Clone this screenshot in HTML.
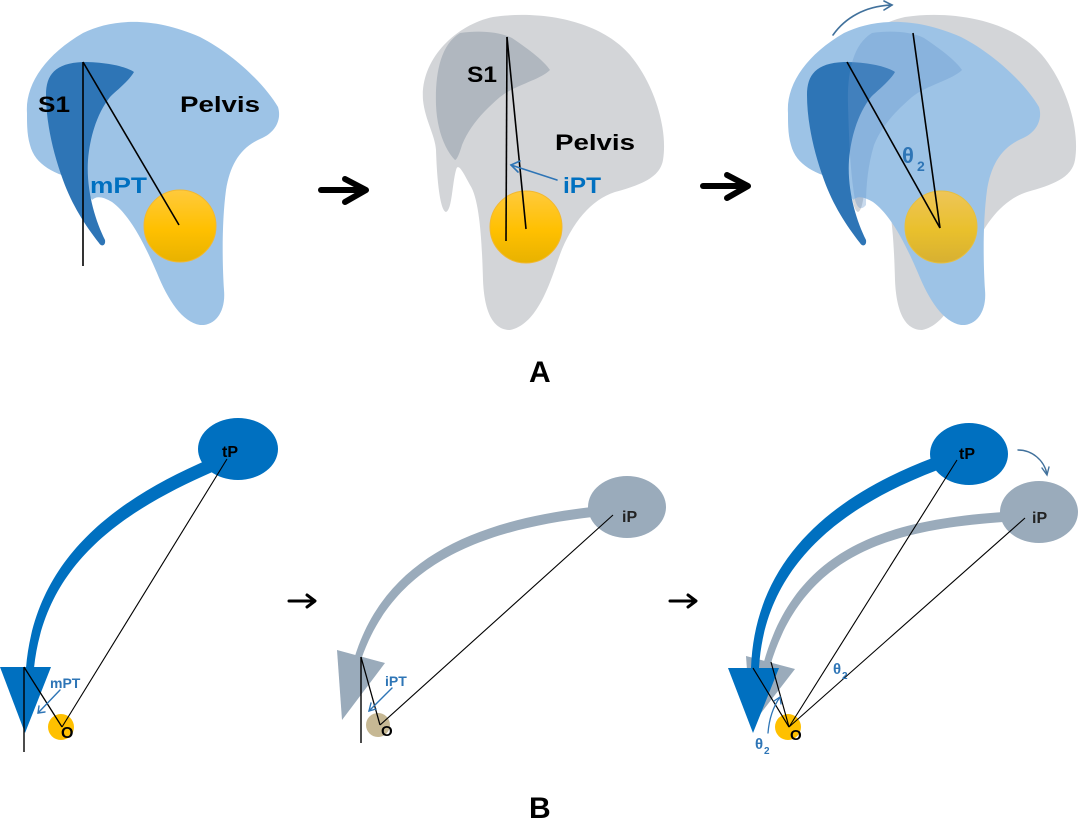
<!DOCTYPE html>
<html>
<head>
<meta charset="utf-8">
<style>
  html, body { margin: 0; padding: 0; background: #ffffff; }
  svg { display: block; }
  text { font-family: "Liberation Sans", "DejaVu Sans", sans-serif; }
</style>
</head>
<body>
<svg width="1080" height="834" viewBox="0 0 1080 834" xmlns="http://www.w3.org/2000/svg">
  <defs>
    <linearGradient id="yel" x1="0" y1="0" x2="0" y2="1">
      <stop offset="0" stop-color="#ffca3c"/>
      <stop offset="0.55" stop-color="#ffc000"/>
      <stop offset="1" stop-color="#e8b200"/>
    </linearGradient>
    <linearGradient id="yel2" x1="0" y1="0" x2="0" y2="1">
      <stop offset="0" stop-color="#eec558"/>
      <stop offset="0.55" stop-color="#e9c02c"/>
      <stop offset="1" stop-color="#d7b032"/>
    </linearGradient>
    <path id="pelvisA" d="M 27,113 C 25,85 45,55 83,33 C 110,20 150,15 200,37 C 235,55 265,85 278,107 C 282,120 275,133 260,139 C 240,148 230,165 226,190 C 222,220 222,260 224,290 C 226,312 215,326 200,325 C 182,322 168,300 157,273 C 145,245 130,215 112,202 C 102,196 96,196 92,200 L 80,180 C 55,175 35,165 30,145 C 27,135 27,125 27,113 Z"/>
    <path id="s1A" d="M 83,62 C 105,62 125,66 134,72 C 128,82 117,90 110,97 C 98,112 90,135 88,160 C 86,190 95,220 105,240 C 106,246 101,247 99,243 C 85,225 72,205 63,180 C 52,150 46,120 46,95 C 46,75 55,63 83,62 Z"/>
    <path id="pelvisG" d="M 493,17 C 540,10 600,20 630,55 C 655,85 668,130 663,160 C 660,178 640,185 615,192 C 590,200 570,225 558,260 C 548,290 535,325 510,330 C 490,330 484,305 483,280 C 482,245 480,200 470,185 C 463,172 458,162 456,170 C 452,185 452,210 446,212 C 440,210 437,180 436,150 C 435,135 425,120 423,100 C 420,60 455,25 493,17 Z"/>
    <path id="s1G" d="M 460,33 C 480,30 500,32 512,38 C 530,50 545,62 550,70 C 540,80 515,85 500,97 C 485,110 470,125 462,145 C 460,152 457,160 455,160 C 445,150 437,130 436,105 C 435,75 440,45 460,33 Z"/>
  </defs>

  <!-- ============ PANEL A1 ============ -->
  <use href="#pelvisA" fill="#9dc3e6"/>
  <use href="#s1A" fill="#2e75b6"/>
  <circle cx="180" cy="226" r="36" fill="url(#yel)" stroke="#f2b830" stroke-width="1"/>
  <line x1="83" y1="62" x2="83" y2="266" stroke="#000" stroke-width="1.6"/>
  <line x1="83" y1="62" x2="179" y2="225" stroke="#000" stroke-width="1.6"/>
  <text x="38" y="112" font-size="22" font-weight="bold" fill="#000" textLength="32" lengthAdjust="spacingAndGlyphs">S1</text>
  <text x="180" y="112" font-size="22" font-weight="bold" fill="#000" textLength="80" lengthAdjust="spacingAndGlyphs">Pelvis</text>
  <text x="90" y="193" font-size="22" font-weight="bold" fill="#0070c0" textLength="57" lengthAdjust="spacingAndGlyphs">mPT</text>

  <!-- Arrow A1->A2 -->
  <g stroke="#000" stroke-width="6" fill="none" stroke-linecap="round" stroke-linejoin="round">
    <line x1="321" y1="190" x2="365" y2="190"/>
    <polyline points="345,179 366,190 345,202"/>
  </g>

  <!-- ============ PANEL A2 ============ -->
  <use href="#pelvisG" fill="#d3d5d8"/>
  <use href="#s1G" fill="#b0b7bf"/>
  <circle cx="526" cy="227" r="36" fill="url(#yel)" stroke="#f2b830" stroke-width="1"/>
  <line x1="507" y1="37" x2="506" y2="241" stroke="#000" stroke-width="1.6"/>
  <line x1="507" y1="37" x2="526" y2="229" stroke="#000" stroke-width="1.6"/>
  <text x="467" y="82" font-size="22" font-weight="bold" fill="#000" textLength="30" lengthAdjust="spacingAndGlyphs">S1</text>
  <text x="555" y="150" font-size="22" font-weight="bold" fill="#000" textLength="80" lengthAdjust="spacingAndGlyphs">Pelvis</text>
  <text x="563" y="193" font-size="22" font-weight="bold" fill="#0070c0" textLength="38" lengthAdjust="spacingAndGlyphs">iPT</text>
  <g stroke="#2e75b6" stroke-width="1.6" fill="none" stroke-linecap="round">
    <line x1="557" y1="180" x2="511" y2="165"/>
    <polyline points="520,161 511,165 518,172"/>
  </g>

  <!-- Arrow A2->A3 -->
  <g stroke="#000" stroke-width="6" fill="none" stroke-linecap="round" stroke-linejoin="round">
    <line x1="703" y1="186" x2="747" y2="186"/>
    <polyline points="727,175 748,186 727,198"/>
  </g>

  <!-- ============ PANEL A3 ============ -->
  <g transform="translate(412,0)">
    <use href="#pelvisG" fill="#d3d5d8"/>
  </g>
  <g transform="translate(761,0)">
    <use href="#pelvisA" fill="#9dc3e6"/>
    <use href="#s1A" fill="#2e75b6"/>
  </g>
  <path d="M 872,33 C 892,30 912,32 924,38 C 942,50 957,62 962,70 C 952,80 927,85 912,97 C 897,110 882,125 874,145 C 868,165 866,185 866,205 C 862,210 858,210 855,200 C 850,170 849,140 848,105 C 847,75 852,45 872,33 Z" fill="#6496cc" opacity="0.35"/>
  <circle cx="941" cy="227" r="36" fill="url(#yel2)" stroke="#e6bf40" stroke-width="1"/>
  <line x1="847" y1="62" x2="940" y2="228" stroke="#000" stroke-width="1.6"/>
  <line x1="913" y1="33" x2="940" y2="228" stroke="#000" stroke-width="1.6"/>
  <text x="902" y="163" font-size="22" font-weight="bold" fill="#2e75b6">θ</text>
  <text x="917" y="171" font-size="14" font-weight="bold" fill="#2e75b6">2</text>
  <g stroke="#41719c" stroke-width="1.6" fill="none" stroke-linecap="round">
    <path d="M 833,35 C 845,18 865,6 892,5"/>
    <polyline points="884,1 892,5 884,10"/>
  </g>

  <text x="529" y="382" font-size="30" font-weight="bold" fill="#000">A</text>

  <!-- ============ PANEL B1 ============ -->
  <path d="M 209.4,459 C 117,499 35,557 26,668 L 34,668 C 45,563 123,511 214.6,471 Z" fill="#0070c0"/>
  <ellipse cx="238" cy="449" rx="40" ry="31" fill="#0070c0"/>
  <polygon points="0,667 51,667 25,733" fill="#0070c0"/>
  <circle cx="61" cy="727" r="13" fill="#ffc000"/>
  <line x1="24" y1="667" x2="24" y2="752" stroke="#000" stroke-width="1.4"/>
  <line x1="24" y1="667" x2="62" y2="727" stroke="#000" stroke-width="1.3"/>
  <line x1="62" y1="727" x2="227" y2="459" stroke="#000" stroke-width="1.1"/>
  <text x="222" y="457" font-size="16" font-weight="bold" fill="#000">tP</text>
  <text x="61" y="738" font-size="16" font-weight="bold" fill="#000">O</text>
  <text x="50" y="688" font-size="14" font-weight="bold" fill="#2e75b6">mPT</text>
  <g stroke="#2e75b6" stroke-width="1.4" fill="none" stroke-linecap="round">
    <line x1="60" y1="690" x2="38" y2="713"/>
    <polyline points="45,712 38,713 39,706"/>
  </g>

  <!-- Arrow B1->B2 -->
  <g stroke="#000" stroke-width="3" fill="none" stroke-linecap="round" stroke-linejoin="round">
    <line x1="289" y1="601" x2="314" y2="601"/>
    <polyline points="307,595 315,601 307,607"/>
  </g>

  <!-- ============ PANEL B2 ============ -->
  <path d="M 591.4,507 C 479,520 386,556 354.7,656.9 L 361.3,659.1 C 394,564 481,530 592.6,517 Z" fill="#9aabbb"/>
  <ellipse cx="627" cy="507" rx="39" ry="31" fill="#9aabbb"/>
  <polygon points="337,650 385,663 342,720" fill="#9aabbb"/>
  <circle cx="378" cy="725" r="12" fill="#c6b894"/>
  <line x1="361" y1="657" x2="361" y2="743" stroke="#000" stroke-width="1.4"/>
  <line x1="361" y1="657" x2="380" y2="725" stroke="#000" stroke-width="1.3"/>
  <line x1="380" y1="725" x2="613" y2="515" stroke="#000" stroke-width="1.1"/>
  <text x="622" y="522" font-size="16" font-weight="bold" fill="#222">iP</text>
  <text x="381" y="736" font-size="15" font-weight="bold" fill="#000">O</text>
  <text x="385" y="686" font-size="14" font-weight="bold" fill="#2e75b6">iPT</text>
  <g stroke="#2e75b6" stroke-width="1.4" fill="none" stroke-linecap="round">
    <line x1="392" y1="688" x2="369" y2="711"/>
    <polyline points="376,709 369,711 371,703"/>
  </g>

  <!-- Arrow B2->B3 -->
  <g stroke="#000" stroke-width="3" fill="none" stroke-linecap="round" stroke-linejoin="round">
    <line x1="670" y1="601" x2="695" y2="601"/>
    <polyline points="688,595 696,601 688,607"/>
  </g>

  <!-- ============ PANEL B3 ============ -->
  <path d="M 1003,512 C 889,520 796,546 763.6,663 L 770.4,665 C 804,554 891,530 1003,522 Z" fill="#9aabbb"/>
  <ellipse cx="1039" cy="512" rx="39" ry="31" fill="#9aabbb"/>
  <polygon points="746,656 795,669 751,726" fill="#9aabbb"/>
  <path d="M 932.7,457.9 C 837,494 755,556 751,668 L 759,668 C 765,564 843,506 937.3,470.1 Z" fill="#0070c0"/>
  <ellipse cx="969" cy="454" rx="39" ry="31" fill="#0070c0"/>
  <polygon points="728,668 779,668 753,733" fill="#0070c0"/>
  <circle cx="788" cy="727" r="13" fill="#ffc000"/>
  <line x1="753" y1="668" x2="789" y2="727" stroke="#000" stroke-width="1.2"/>
  <line x1="771" y1="662" x2="789" y2="727" stroke="#000" stroke-width="1.2"/>
  <line x1="789" y1="727" x2="957" y2="460" stroke="#000" stroke-width="1.1"/>
  <line x1="789" y1="727" x2="1025" y2="518" stroke="#000" stroke-width="1.1"/>
  <text x="959" y="459" font-size="16" font-weight="bold" fill="#000">tP</text>
  <text x="1032" y="523" font-size="16" font-weight="bold" fill="#222">iP</text>
  <text x="790" y="740" font-size="15" font-weight="bold" fill="#000">O</text>
  <text x="833" y="674" font-size="15" font-weight="bold" fill="#2e75b6">θ</text>
  <text x="842" y="679" font-size="10" font-weight="bold" fill="#2e75b6">2</text>
  <text x="755" y="749" font-size="15" font-weight="bold" fill="#2e75b6">θ</text>
  <text x="764" y="754" font-size="10" font-weight="bold" fill="#2e75b6">2</text>
  <g stroke="#2e75b6" stroke-width="1.3" fill="none" stroke-linecap="round">
    <path d="M 768,733 C 769,720 773,707 780,697"/>
    <polyline points="774,701 780,697 781,704"/>
  </g>
  <g stroke="#41719c" stroke-width="1.4" fill="none" stroke-linecap="round">
    <path d="M 1018,450 C 1032,450 1044,460 1047,474"/>
    <polyline points="1042,468 1047,475 1049,467"/>
  </g>

  <text x="529" y="818" font-size="30" font-weight="bold" fill="#000">B</text>
</svg>
</body>
</html>
